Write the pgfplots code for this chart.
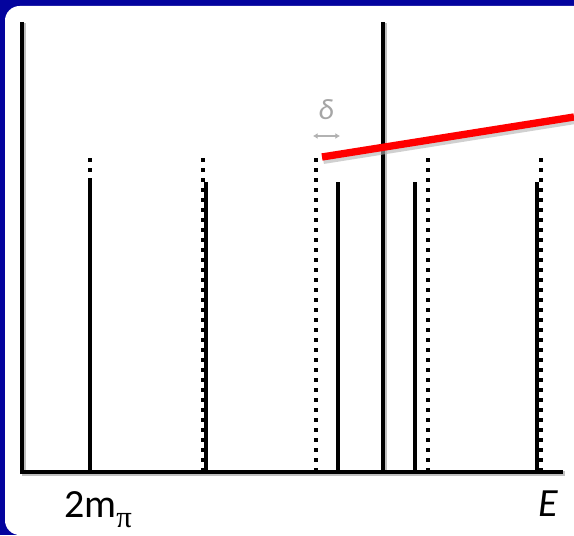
\documentclass[border=0pt]{standalone}
\usepackage{fontspec}
\setmainfont{Carlito}
\newfontfamily\serifgr{Liberation Serif}
\usepackage{pgfplots}
\pgfplotsset{compat=1.18}
\usetikzlibrary{arrows.meta}
\definecolor{navy}{RGB}{4,4,158}
\begin{document}
\begin{tikzpicture}
\begin{axis}[
  scale only axis, width=430.5pt, height=401.25pt,
  xmin=0, xmax=574, ymin=-63, ymax=472,
  hide axis, clip=false,
]
\fill[navy] (axis cs:0,-63) rectangle (axis cs:574,472);
\fill[white] (axis cs:574,-63) -- (axis cs:574,466) -- (axis cs:300,466) [rounded corners=11pt] -- (axis cs:5,466) -- (axis cs:5,-63) [sharp corners] -- cycle;
% shadows of the axis lines
\addplot[black!25, line width=3.4pt, xshift=1.5pt, yshift=-1pt, forget plot] coordinates {(22,450) (22,0) (563,0)};
\addplot[black!25, line width=3.4pt, xshift=1.5pt, yshift=-1pt, forget plot] coordinates {(383,0) (383,450)};
% axes
\addplot[black, line width=3.4pt, line join=miter, mark=none] coordinates {(22,450) (22,0) (563,0)};
\addplot[black, line width=3.4pt, mark=none] coordinates {(383,0) (383,450)};
% solid levels
\addplot[ycomb, black, line width=3.4pt, mark=none] coordinates {(90,290) (206,290) (338,290) (415,290) (537,290)};
% dotted levels
\addplot[ycomb, black, line width=3.5pt, mark=none, dash pattern=on 3.2pt off 4.3pt] coordinates {(90,314) (203,314) (316,314) (428,314) (541,314)};
% red line with shadow
\addplot[black!30, opacity=0.6, line width=5.5pt, xshift=1pt, yshift=-2.5pt, mark=none, forget plot] coordinates {(322,315) (574,355)};
\addplot[red, line width=5.5pt, mark=none] coordinates {(322,315) (574,355)};
% delta marker
\addplot[gray!60, line width=0.9pt, mark=none, {Latex[length=3.5pt,width=4.5pt]}-{Latex[length=3.5pt,width=4.5pt]}] coordinates {(313,336) (340,336)};
\node[text=gray!70] at (axis cs:326,362) {\fontsize{22}{24}\selectfont\itshape δ};
% labels
\node[anchor=base west, inner sep=0pt] at (axis cs:64,-46) {\fontsize{30}{32}\selectfont 2m\raisebox{-7pt}{\serifgr\fontsize{23}{25}\selectfont π}};
\node[anchor=base west, inner sep=0pt] at (axis cs:538,-44) {\fontsize{30}{32}\selectfont\itshape E};
\end{axis}
\pgfresetboundingbox
\path (current axis.south west) rectangle (current axis.north east);
\end{tikzpicture}
\end{document}
